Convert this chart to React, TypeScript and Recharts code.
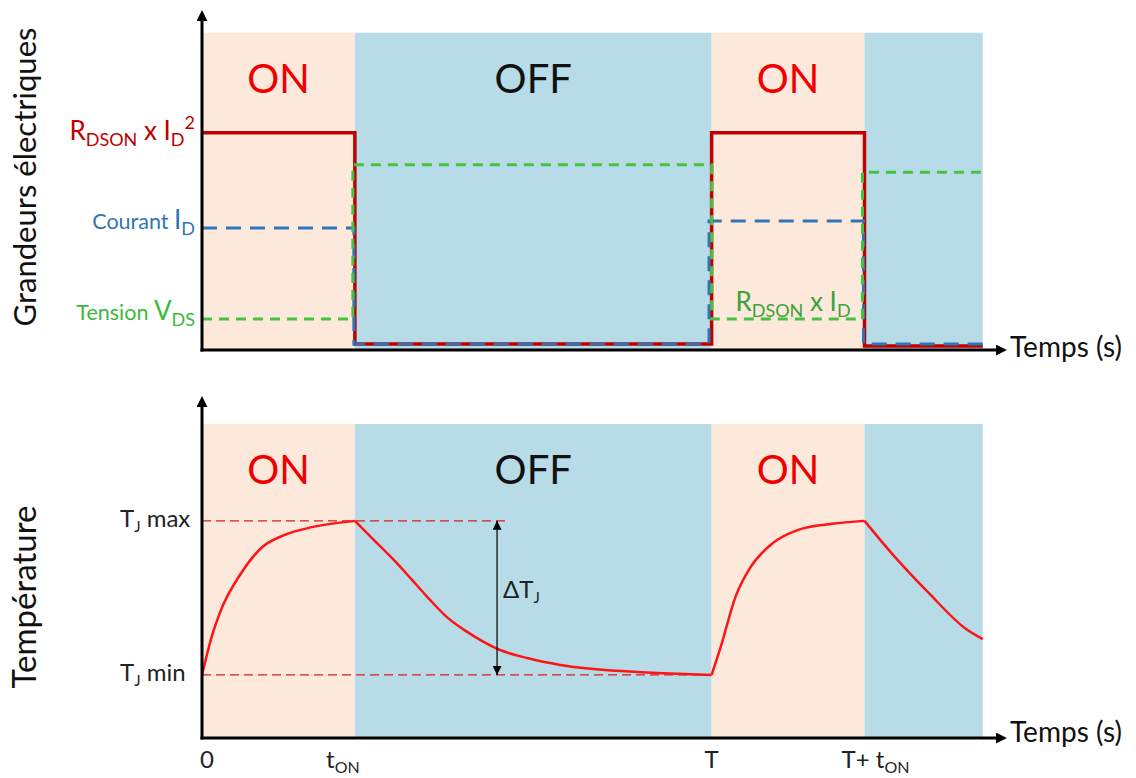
import React from "react";
import { ComposedChart, Line, XAxis, YAxis, ReferenceArea, ReferenceLine } from "recharts";

// phases of the switching period (time in arbitrary units, T = 10, t_on = 3)
const phaseStart = [0, 3, 10, 13];
const phaseEnd = [3, 10, 13, 15.32];
const phaseLabel = ["ON", "OFF", "ON", ""];
const phaseIsOn = [true, false, true, false];

const bandTopSignals = 96.1;
const bandTopTemp = 94.6;

// electrical quantities (step signals)
const powerT = [0, 3, 10, 13, 15.32];
const powerV = [65.8, 1.8, 65.8, 1.2, 1.2];
const currentT = [0, 2.98, 9.95, 12.98, 15.32];
const currentV = [37.0, 1.8, 39.1, 1.8, 1.8];
const voltageT = [0, 2.96, 10, 12.96, 15.35];
const voltageV = [9.4, 56.1, 9.4, 53.9, 53.9];

// junction temperature, one array pair per phase
const heatT1 = [0, 0.2, 0.35, 0.77, 1.19, 1.61, 2.18, 3];
const heatV1 = [19.0, 31.0, 37.7, 49.7, 57.6, 61.1, 63.6, 65.4];
const coolT1 = [3, 3.35, 3.74, 4.1, 4.45, 4.8, 5.15, 5.5, 5.85, 6.4, 7.03, 8.4, 9.2, 10];
const coolV1 = [65.4, 60.0, 54.0, 48.0, 42.0, 36.5, 32.5, 29.2, 26.5, 24.0, 22.0, 20.0, 19.4, 19.0];
const heatT2 = [10, 10.18, 10.47, 10.77, 11.2, 11.7, 12.36, 13];
const heatV2 = [19.0, 27.5, 42.6, 51.6, 58.7, 62.7, 64.5, 65.4];
const coolT2 = [13, 13.53, 14.26, 14.98, 15.32];
const coolV2 = [65.4, 55.7, 43.7, 33.0, 29.8];

const tjMin = 19.0;
const tjMax = 65.4;
const tjMaxEnd = 6.0;
const tjMinEnd = 9.77;
const deltaAt = 5.79;

type Seg = { t: string; sub?: boolean; sup?: boolean; big?: boolean };

const signalTicks = [65.8, 37.0, 9.4];
const signalTickLabels: Seg[][] = [
  [{ t: "R", big: true }, { t: "DSON", sub: true }, { t: " x I", big: true }, { t: "D", sub: true }, { t: "2", sup: true }],
  [{ t: "Courant " }, { t: "I", big: true }, { t: "D", sub: true }],
  [{ t: "Tension " }, { t: "V", big: true }, { t: "DS", sub: true }],
];
const signalTickColors = ["#c00000", "#2e75b6", "#3cb83c"];

const tempTicks = [tjMax, tjMin];
const tempTickLabels: Seg[][] = [
  [{ t: "T", big: true }, { t: "J", sub: true }, { t: " max", big: true }],
  [{ t: "T", big: true }, { t: "J", sub: true }, { t: " min", big: true }],
];

const timeTicks = [0, 3, 10, 13];
const timeTickLabels: Seg[][] = [
  [{ t: "0", big: true }],
  [{ t: "t", big: true }, { t: "ON", sub: true }],
  [{ t: "T", big: true }],
  [{ t: "T+ t", big: true }, { t: "ON", sub: true }],
];
const timeTickNudge = [5, -12, 0, 11];

const onColor = "#fde9dc";
const offColor = "#b7dce7";
const FONT = "Lato, 'Open Sans', sans-serif";

const toRows = (ts: number[], vs: number[]) => ts.map((t, i) => ({ t, v: vs[i] }));

function Rich({ segs, size, big, small }: { segs: Seg[]; size: number; big: number; small: number }) {
  let shift = 0;
  return (
    <>
      {segs.map((s, i) => {
        const target = s.sub ? big * 0.22 : s.sup ? -big * 0.42 : 0;
        const dy = target - shift;
        shift = target;
        const fs = s.sub || s.sup ? small : s.big ? big : size;
        return (
          <tspan key={i} dy={dy} fontSize={fs}>
            {s.t}
          </tspan>
        );
      })}
    </>
  );
}

const SignalTick = (props: any) => {
  const { x, y, index } = props;
  return (
    <text x={x + 1} y={y + (index === 0 ? 7 : 1)} textAnchor="end" fill={signalTickColors[index]} fontFamily={FONT}>
      <Rich segs={signalTickLabels[index]} size={index === 0 ? 20 : 21.5} big={26} small={18} />
    </text>
  );
};

const TempTick = (props: any) => {
  const { x, y, index } = props;
  return (
    <text x={x - 74} y={y + 6} textAnchor="start" fill="#222" fontFamily={FONT}>
      <Rich segs={tempTickLabels[index]} size={24} big={24} small={15} />
    </text>
  );
};

const TimeTick = (props: any) => {
  const { x, y, index } = props;
  return (
    <text x={x + timeTickNudge[index]} y={y + 22} textAnchor="middle" fill="#222" fontFamily={FONT}>
      <Rich segs={timeTickLabels[index]} size={24} big={24} small={16} />
    </text>
  );
};

const verticalTitle = (text: string, size: number, shiftY: number) => (p: any) => {
  const vb = p.viewBox;
  return (
    <text
      transform={`translate(${vb.x + 36}, ${vb.y + vb.height / 2 + shiftY}) rotate(-90)`}
      textAnchor="middle"
      fontSize={size}
      fill="#111"
      fontFamily={FONT}
    >
      {text}
    </text>
  );
};

const timeTitle = (dyBase: number) => (p: any) => {
  const vb = p.viewBox;
  return (
    <text x={vb.x + vb.width + 13} y={vb.y + dyBase} fontSize={28} fill="#111" fontFamily={FONT}>
      Temps (s)
    </text>
  );
};

const axisLineStyle = { stroke: "#000", strokeWidth: 3, strokeLinecap: "square" };

function Bands({ top }: { top: number }) {
  return (
    <>
      {phaseStart.map((s, i) => (
        <ReferenceArea
          key={i}
          x1={s}
          x2={phaseEnd[i]}
          y1={0}
          y2={top}
          fill={phaseIsOn[i] ? onColor : offColor}
          fillOpacity={1}
          stroke="none"
          label={{
            value: phaseLabel[i],
            position: "insideTop",
            offset: 32,
            fill: phaseIsOn[i] ? "#ee0000" : "#111",
            fontSize: 40,
            fontFamily: FONT,
          }}
        />
      ))}
    </>
  );
}

const tempSegments = [
  toRows(heatT1, heatV1),
  toRows(coolT1, coolV1),
  toRows(heatT2, heatV2),
  toRows(coolT2, coolV2),
];

export default function App() {
  const width = 1136;
  const margin = { top: 20, right: 139, left: 0, bottom: 0 };
  return (
    <div style={{ position: "absolute", left: 0, top: 0, width, height: 778, background: "#fff", fontFamily: FONT }}>
      <svg width={0} height={0} style={{ position: "absolute" }}>
        <defs>
          <marker id="axisArrow" viewBox="0 0 10 10" refX={1} refY={5} markerWidth={11} markerHeight={11} markerUnits="userSpaceOnUse" orient="auto-start-reverse">
            <path d="M0,0 L10,5 L0,10 z" fill="#000" />
          </marker>
          <marker id="tipArrow" viewBox="0 0 10 10" refX={10} refY={5} markerWidth={12} markerHeight={9} markerUnits="userSpaceOnUse" orient="auto-start-reverse">
            <path d="M0,0 L10,5 L0,10 z" fill="#000" />
          </marker>
        </defs>
      </svg>

      <div style={{ position: "absolute", left: 0, top: 0 }}>
        <ComposedChart width={width} height={380} margin={margin}>
          <Bands top={bandTopSignals} />
          <Line data={toRows(powerT, powerV)} dataKey="v" type="stepAfter" stroke="#c00000" strokeWidth={3.5} dot={false} activeDot={false} isAnimationActive={false} />
          <Line data={toRows(currentT, currentV)} dataKey="v" type="stepAfter" stroke="#2e75b6" strokeWidth={3} strokeDasharray="15 9" dot={false} activeDot={false} isAnimationActive={false} />
          <Line data={toRows(voltageT, voltageV)} dataKey="v" type="stepAfter" stroke="#44c244" strokeWidth={3} strokeDasharray="10 7" dot={false} activeDot={false} isAnimationActive={false} />
          <ReferenceLine
            segment={[
              { x: voltageT[2], y: voltageV[2] },
              { x: voltageT[3], y: voltageV[2] },
            ]}
            stroke="none"
            label={{
              content: (p: any) => {
                const vb = p.viewBox;
                return (
                  <text x={vb.x + vb.width / 2 + 6} y={vb.y - 8} textAnchor="middle" fill="#3aa23a" fontFamily={FONT}>
                    <Rich segs={[{ t: "R", big: true }, { t: "DSON", sub: true }, { t: " x I", big: true }, { t: "D", sub: true }]} size={26} big={26} small={18} />
                  </text>
                );
              },
            }}
          />
          <XAxis type="number" dataKey="t" domain={[0, 15.6]} allowDataOverflow height={30} tick={false} tickLine={false} axisLine={{ ...axisLineStyle, markerEnd: "url(#axisArrow)" }} label={{ content: timeTitle(7) }} />
          <YAxis type="number" domain={[0, 100]} allowDataOverflow width={202} ticks={signalTicks} interval={0} tickLine={false} tick={<SignalTick />} axisLine={{ ...axisLineStyle, markerStart: "url(#axisArrow)" }} label={{ content: verticalTitle("Grandeurs électriques", 31, -8) }} />
        </ComposedChart>
      </div>

      <div style={{ position: "absolute", left: 0, top: 380 }}>
        <ComposedChart width={width} height={398} margin={{ ...margin, top: 26 }}>
          <Bands top={bandTopTemp} />
          <ReferenceLine segment={[{ x: 0, y: tjMax }, { x: tjMaxEnd, y: tjMax }]} stroke="#d81e1e" strokeWidth={1.3} strokeDasharray="9 5" />
          <ReferenceLine segment={[{ x: 0, y: tjMin }, { x: tjMinEnd, y: tjMin }]} stroke="#d81e1e" strokeWidth={1.3} strokeDasharray="9 5" />
          {tempSegments.map((rows, i) => (
            <Line key={i} data={rows} dataKey="v" type="monotone" stroke="#ff1414" strokeWidth={2.5} dot={false} activeDot={false} isAnimationActive={false} />
          ))}
          <ReferenceLine
            segment={[
              { x: deltaAt, y: tjMin },
              { x: deltaAt, y: tjMax },
            ]}
            stroke="#111"
            strokeWidth={1.3}
            markerStart="url(#tipArrow)"
            markerEnd="url(#tipArrow)"
            label={{
              content: (p: any) => {
                const vb = p.viewBox;
                return (
                  <text x={vb.x + 6} y={vb.y + vb.height / 2} fill="#222" fontFamily={FONT}>
                    <Rich segs={[{ t: "ΔT", big: true }, { t: "J", sub: true }]} size={24} big={24} small={15} />
                  </text>
                );
              },
            }}
          />
          <XAxis type="number" dataKey="t" domain={[0, 15.6]} allowDataOverflow height={40} ticks={timeTicks} interval={0} tickLine={false} tick={<TimeTick />} axisLine={{ ...axisLineStyle, markerEnd: "url(#axisArrow)" }} label={{ content: timeTitle(4) }} />
          <YAxis type="number" domain={[0, 100]} allowDataOverflow width={202} ticks={tempTicks} interval={0} tickLine={false} tick={<TempTick />} axisLine={{ ...axisLineStyle, markerStart: "url(#axisArrow)" }} label={{ content: verticalTitle("Température", 33, 25) }} />
        </ComposedChart>
      </div>
    </div>
  );
}
